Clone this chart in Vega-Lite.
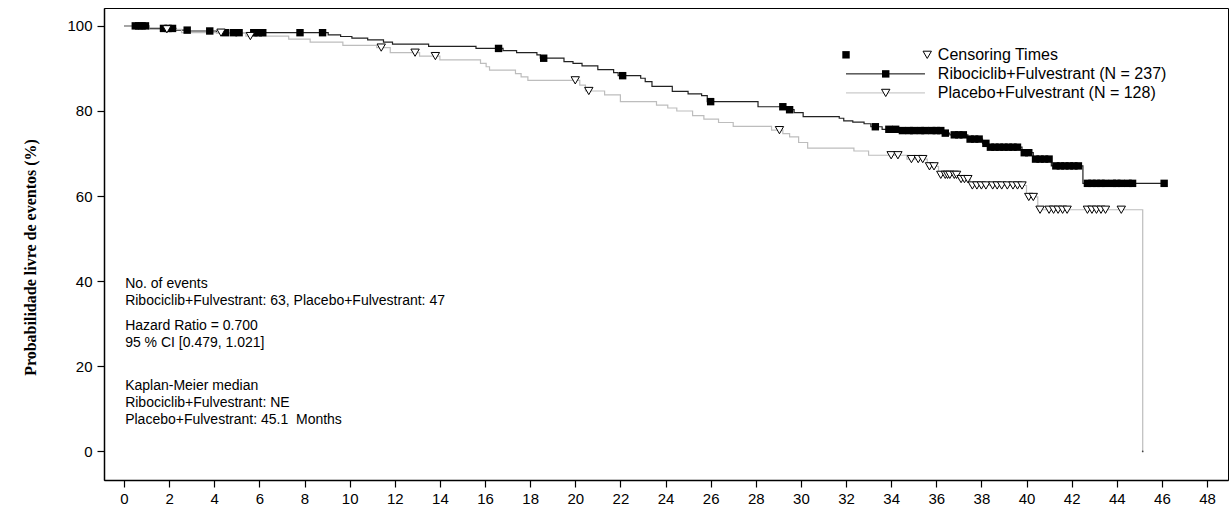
{
  "$schema": "https://vega.github.io/schema/vega-lite/v6.json",
  "autosize": "none",
  "width": 1124,
  "height": 472,
  "padding": {"left": 104, "top": 8, "right": 1, "bottom": 27},
  "background": "white",
  "config": {
    "view": {"stroke": "#000", "strokeWidth": 1},
    "font": "Liberation Sans",
    "axis": {"grid": false, "domainColor": "#000", "domainWidth": 1.5, "tickColor": "#000", "tickWidth": 1.2, "tickSize": 7, "labelColor": "#000", "labelFont": "Liberation Sans", "labelFontSize": 15}
  },
  "datasets": {
    "one": [{"k": 1}],
    "curve": [
      {"arm": "R", "month": 0, "surv": 100}, {"arm": "R", "month": 1.1, "surv": 99.4}, {"arm": "R", "month": 2.3, "surv": 99.0}, {"arm": "R", "month": 2.9, "surv": 98.8}, {"arm": "R", "month": 4.1, "surv": 98.4}, {"arm": "R", "month": 9.05, "surv": 97.9}, {"arm": "R", "month": 9.6, "surv": 97.5}, {"arm": "R", "month": 10.1, "surv": 97.1}, {"arm": "R", "month": 10.8, "surv": 96.7}, {"arm": "R", "month": 11.5, "surv": 96.2}, {"arm": "R", "month": 11.9, "surv": 95.7}, {"arm": "R", "month": 13.5, "surv": 95.2}, {"arm": "R", "month": 15.6, "surv": 94.7}, {"arm": "R", "month": 16.8, "surv": 94.2}, {"arm": "R", "month": 17.4, "surv": 93.7}, {"arm": "R", "month": 18.3, "surv": 93.2}, {"arm": "R", "month": 18.45, "surv": 92.4}, {"arm": "R", "month": 19.5, "surv": 91.6}, {"arm": "R", "month": 19.9, "surv": 91.2}, {"arm": "R", "month": 20.3, "surv": 90.6}, {"arm": "R", "month": 21.0, "surv": 89.7}, {"arm": "R", "month": 21.7, "surv": 89.0}, {"arm": "R", "month": 21.9, "surv": 88.3}, {"arm": "R", "month": 22.9, "surv": 87.7}, {"arm": "R", "month": 23.1, "surv": 86.9}, {"arm": "R", "month": 23.4, "surv": 85.8}, {"arm": "R", "month": 24.3, "surv": 84.6}, {"arm": "R", "month": 25.0, "surv": 84.0}, {"arm": "R", "month": 25.6, "surv": 83.6}, {"arm": "R", "month": 25.85, "surv": 82.2}, {"arm": "R", "month": 28.1, "surv": 81.0}, {"arm": "R", "month": 29.45, "surv": 80.3}, {"arm": "R", "month": 29.7, "surv": 79.6}, {"arm": "R", "month": 30.1, "surv": 78.7}, {"arm": "R", "month": 31.7, "surv": 78.3}, {"arm": "R", "month": 31.9, "surv": 77.7}, {"arm": "R", "month": 32.3, "surv": 77.4}, {"arm": "R", "month": 32.8, "surv": 77.0}, {"arm": "R", "month": 33.1, "surv": 76.3}, {"arm": "R", "month": 33.6, "surv": 75.7}, {"arm": "R", "month": 34.4, "surv": 75.4}, {"arm": "R", "month": 36.3, "surv": 74.8}, {"arm": "R", "month": 36.6, "surv": 74.4}, {"arm": "R", "month": 37.4, "surv": 73.4}, {"arm": "R", "month": 38.05, "surv": 72.4}, {"arm": "R", "month": 38.3, "surv": 71.5}, {"arm": "R", "month": 39.8, "surv": 70.2}, {"arm": "R", "month": 40.3, "surv": 68.7}, {"arm": "R", "month": 41.1, "surv": 67.1}, {"arm": "R", "month": 42.5, "surv": 63.0}, {"arm": "R", "month": 46.1, "surv": 63.0},
      {"arm": "P", "month": 0, "surv": 100}, {"arm": "P", "month": 1.1, "surv": 99.2}, {"arm": "P", "month": 2.55, "surv": 98.4}, {"arm": "P", "month": 5.4, "surv": 97.6}, {"arm": "P", "month": 7.3, "surv": 96.9}, {"arm": "P", "month": 8.25, "surv": 96.2}, {"arm": "P", "month": 9.7, "surv": 95.4}, {"arm": "P", "month": 11.2, "surv": 94.9}, {"arm": "P", "month": 11.8, "surv": 93.7}, {"arm": "P", "month": 13.1, "surv": 92.9}, {"arm": "P", "month": 14.0, "surv": 92.0}, {"arm": "P", "month": 15.8, "surv": 91.2}, {"arm": "P", "month": 16.05, "surv": 90.4}, {"arm": "P", "month": 16.2, "surv": 89.6}, {"arm": "P", "month": 17.35, "surv": 88.8}, {"arm": "P", "month": 17.6, "surv": 88.0}, {"arm": "P", "month": 17.9, "surv": 87.2}, {"arm": "P", "month": 20.2, "surv": 86.1}, {"arm": "P", "month": 20.45, "surv": 84.7}, {"arm": "P", "month": 21.3, "surv": 83.8}, {"arm": "P", "month": 22.0, "surv": 82.2}, {"arm": "P", "month": 23.6, "surv": 81.4}, {"arm": "P", "month": 24.1, "surv": 80.7}, {"arm": "P", "month": 24.5, "surv": 80.0}, {"arm": "P", "month": 25.2, "surv": 78.9}, {"arm": "P", "month": 25.7, "surv": 78.1}, {"arm": "P", "month": 26.35, "surv": 77.3}, {"arm": "P", "month": 27.0, "surv": 76.4}, {"arm": "P", "month": 28.7, "surv": 75.5}, {"arm": "P", "month": 29.2, "surv": 74.7}, {"arm": "P", "month": 29.5, "surv": 73.9}, {"arm": "P", "month": 29.9, "surv": 72.6}, {"arm": "P", "month": 30.3, "surv": 71.3}, {"arm": "P", "month": 32.35, "surv": 70.6}, {"arm": "P", "month": 33.0, "surv": 69.6}, {"arm": "P", "month": 34.7, "surv": 68.7}, {"arm": "P", "month": 35.6, "surv": 67.0}, {"arm": "P", "month": 36.1, "surv": 65.0}, {"arm": "P", "month": 37.0, "surv": 64.0}, {"arm": "P", "month": 37.5, "surv": 62.5}, {"arm": "P", "month": 40.0, "surv": 59.8}, {"arm": "P", "month": 40.5, "surv": 56.8}, {"arm": "P", "month": 45.15, "surv": 0}
    ],
    "censorR": [
      {"month": 0.5, "surv": 100}, {"month": 0.65, "surv": 100}, {"month": 0.8, "surv": 100}, {"month": 0.95, "surv": 100}, {"month": 1.75, "surv": 99.4}, {"month": 1.95, "surv": 99.4}, {"month": 2.15, "surv": 99.4}, {"month": 2.8, "surv": 99.0}, {"month": 3.8, "surv": 98.8}, {"month": 4.5, "surv": 98.4}, {"month": 4.85, "surv": 98.4}, {"month": 5.1, "surv": 98.4}, {"month": 5.75, "surv": 98.4}, {"month": 5.95, "surv": 98.4}, {"month": 6.15, "surv": 98.4}, {"month": 7.8, "surv": 98.4}, {"month": 8.8, "surv": 98.4}, {"month": 16.6, "surv": 94.7}, {"month": 18.6, "surv": 92.4}, {"month": 22.1, "surv": 88.3}, {"month": 26.0, "surv": 82.2}, {"month": 29.2, "surv": 81.0}, {"month": 29.5, "surv": 80.3}, {"month": 33.3, "surv": 76.3}, {"month": 33.9, "surv": 75.7}, {"month": 34.2, "surv": 75.7}, {"month": 34.5, "surv": 75.4}, {"month": 34.8, "surv": 75.4}, {"month": 35.0, "surv": 75.4}, {"month": 35.3, "surv": 75.4}, {"month": 35.5, "surv": 75.4}, {"month": 35.8, "surv": 75.4}, {"month": 36.0, "surv": 75.4}, {"month": 36.2, "surv": 75.4}, {"month": 36.4, "surv": 74.8}, {"month": 36.8, "surv": 74.4}, {"month": 37.0, "surv": 74.4}, {"month": 37.2, "surv": 74.4}, {"month": 37.5, "surv": 73.4}, {"month": 37.7, "surv": 73.4}, {"month": 37.9, "surv": 73.4}, {"month": 38.2, "surv": 72.4}, {"month": 38.4, "surv": 71.5}, {"month": 38.6, "surv": 71.5}, {"month": 38.8, "surv": 71.5}, {"month": 39.0, "surv": 71.5}, {"month": 39.2, "surv": 71.5}, {"month": 39.4, "surv": 71.5}, {"month": 39.6, "surv": 71.5}, {"month": 39.9, "surv": 70.2}, {"month": 40.1, "surv": 70.2}, {"month": 40.4, "surv": 68.7}, {"month": 40.6, "surv": 68.7}, {"month": 40.8, "surv": 68.7}, {"month": 41.0, "surv": 68.7}, {"month": 41.3, "surv": 67.1}, {"month": 41.5, "surv": 67.1}, {"month": 41.7, "surv": 67.1}, {"month": 41.9, "surv": 67.1}, {"month": 42.1, "surv": 67.1}, {"month": 42.3, "surv": 67.1}, {"month": 42.7, "surv": 63.0}, {"month": 42.9, "surv": 63.0}, {"month": 43.1, "surv": 63.0}, {"month": 43.3, "surv": 63.0}, {"month": 43.5, "surv": 63.0}, {"month": 43.8, "surv": 63.0}, {"month": 44.0, "surv": 63.0}, {"month": 44.2, "surv": 63.0}, {"month": 44.5, "surv": 63.0}, {"month": 44.7, "surv": 63.0}, {"month": 46.1, "surv": 63.0}
    ],
    "censorP": [
      {"month": 1.9, "surv": 99.2}, {"month": 4.3, "surv": 98.4}, {"month": 5.6, "surv": 97.6}, {"month": 11.4, "surv": 94.9}, {"month": 12.9, "surv": 93.7}, {"month": 13.8, "surv": 92.9}, {"month": 20.0, "surv": 87.2}, {"month": 20.6, "surv": 84.7}, {"month": 29.05, "surv": 75.5}, {"month": 34.0, "surv": 69.6}, {"month": 34.3, "surv": 69.6}, {"month": 34.9, "surv": 68.7}, {"month": 35.2, "surv": 68.7}, {"month": 35.4, "surv": 68.7}, {"month": 35.7, "surv": 67.0}, {"month": 35.9, "surv": 67.0}, {"month": 36.2, "surv": 65.0}, {"month": 36.4, "surv": 65.0}, {"month": 36.5, "surv": 65.0}, {"month": 36.6, "surv": 65.0}, {"month": 36.8, "surv": 65.0}, {"month": 36.9, "surv": 65.0}, {"month": 37.1, "surv": 64.0}, {"month": 37.25, "surv": 64.0}, {"month": 37.4, "surv": 64.0}, {"month": 37.6, "surv": 62.5}, {"month": 37.8, "surv": 62.5}, {"month": 38.0, "surv": 62.5}, {"month": 38.2, "surv": 62.5}, {"month": 38.5, "surv": 62.5}, {"month": 38.7, "surv": 62.5}, {"month": 38.9, "surv": 62.5}, {"month": 39.15, "surv": 62.5}, {"month": 39.4, "surv": 62.5}, {"month": 39.6, "surv": 62.5}, {"month": 39.8, "surv": 62.5}, {"month": 40.1, "surv": 59.8}, {"month": 40.3, "surv": 59.8}, {"month": 40.6, "surv": 56.8}, {"month": 41.0, "surv": 56.8}, {"month": 41.2, "surv": 56.8}, {"month": 41.4, "surv": 56.8}, {"month": 41.6, "surv": 56.8}, {"month": 41.8, "surv": 56.8}, {"month": 42.7, "surv": 56.8}, {"month": 42.9, "surv": 56.8}, {"month": 43.1, "surv": 56.8}, {"month": 43.3, "surv": 56.8}, {"month": 43.5, "surv": 56.8}, {"month": 44.2, "surv": 56.8}
    ]
  },
  "layer": [
    {
      "data": {"name": "curve"},
      "mark": {"type": "line", "interpolate": "step-after", "strokeWidth": 1.2},
      "encoding": {
        "x": {"field": "month", "type": "quantitative", "scale": {"domain": [-0.887, 48.93], "nice": false, "zero": false}, "axis": {"values": [0,2,4,6,8,10,12,14,16,18,20,22,24,26,28,30,32,34,36,38,40,42,44,46,48], "title": null, "labelPadding": 4}},
        "y": {"field": "surv", "type": "quantitative", "scale": {"domain": [-6.7, 104.2], "nice": false, "zero": false}, "axis": {"values": [0,20,40,60,80,100], "labelPadding": 5, "title": "Probabilidade livre de eventos (%)", "titleFont": "Liberation Serif", "titleFontWeight": "bold", "titleFontSize": 16, "titleColor": "#000", "titleX": -74, "titleY": 249, "titleBaseline": "middle", "titleAlign": "center", "titleAngle": -90}},
        "detail": {"field": "arm"},
        "color": {"field": "arm", "type": "nominal", "scale": {"domain": ["R", "P"], "range": ["#222222", "#bdbdbd"]}, "legend": null},
        "order": {"field": "month", "type": "quantitative"}
      }
    },
    {
      "data": {"name": "censorR"},
      "mark": {"type": "point", "shape": "square", "filled": true, "color": "#000", "size": 55, "opacity": 1},
      "encoding": {"x": {"field": "month", "type": "quantitative"}, "y": {"field": "surv", "type": "quantitative"}}
    },
    {
      "data": {"name": "censorP"},
      "mark": {"type": "point", "shape": "triangle-down", "filled": true, "fill": "white", "stroke": "#000", "strokeWidth": 1, "size": 70, "opacity": 1},
      "encoding": {"x": {"field": "month", "type": "quantitative"}, "y": {"field": "surv", "type": "quantitative"}}
    },
    {
      "data": {"name": "one"},
      "mark": {"type": "point", "shape": "circle", "filled": true, "color": "#000", "size": 3},
      "encoding": {"x": {"datum": 45.15}, "y": {"datum": 0}}
    },
    {
      "data": {"name": "one"},
      "mark": {"type": "point", "shape": "square", "filled": true, "color": "#000", "size": 55, "opacity": 1},
      "encoding": {"x": {"datum": 32.0}, "y": {"datum": 93.2}}
    },
    {
      "data": {"name": "one"},
      "mark": {"type": "point", "shape": "triangle-down", "filled": true, "fill": "white", "stroke": "#000", "strokeWidth": 1, "size": 70, "opacity": 1},
      "encoding": {"x": {"datum": 35.6}, "y": {"datum": 93.2}}
    },
    {
      "data": {"name": "one"},
      "mark": {"type": "rule", "color": "#000", "strokeWidth": 1},
      "encoding": {"x": {"datum": 32.0}, "x2": {"datum": 35.5}, "y": {"datum": 88.72}}
    },
    {
      "data": {"name": "one"},
      "mark": {"type": "point", "shape": "square", "filled": true, "color": "#000", "size": 55, "opacity": 1},
      "encoding": {"x": {"datum": 33.76}, "y": {"datum": 88.72}}
    },
    {
      "data": {"name": "one"},
      "mark": {"type": "rule", "color": "#bdbdbd", "strokeWidth": 1},
      "encoding": {"x": {"datum": 32.0}, "x2": {"datum": 35.5}, "y": {"datum": 84.25}}
    },
    {
      "data": {"name": "one"},
      "mark": {"type": "point", "shape": "triangle-down", "filled": true, "fill": "white", "stroke": "#000", "strokeWidth": 1, "size": 70, "opacity": 1},
      "encoding": {"x": {"datum": 33.76}, "y": {"datum": 84.25}}
    },
    {
      "data": {"name": "one"},
      "mark": {"type": "text", "align": "left", "baseline": "middle", "font": "Liberation Sans", "fontSize": 16, "color": "#000", "text": "Censoring Times"},
      "encoding": {"x": {"datum": 36.07}, "y": {"datum": 93.2}}
    },
    {
      "data": {"name": "one"},
      "mark": {"type": "text", "align": "left", "baseline": "middle", "font": "Liberation Sans", "fontSize": 16, "color": "#000", "text": "Ribociclib+Fulvestrant (N = 237)"},
      "encoding": {"x": {"datum": 36.07}, "y": {"datum": 88.72}}
    },
    {
      "data": {"name": "one"},
      "mark": {"type": "text", "align": "left", "baseline": "middle", "font": "Liberation Sans", "fontSize": 16, "color": "#000", "text": "Placebo+Fulvestrant (N = 128)"},
      "encoding": {"x": {"datum": 36.07}, "y": {"datum": 84.25}}
    },
    {
      "data": {"name": "one"},
      "mark": {"type": "text", "align": "left", "baseline": "alphabetic", "font": "Liberation Sans", "fontSize": 14, "color": "#000", "lineHeight": 17, "text": ["No. of events", "Ribociclib+Fulvestrant: 63, Placebo+Fulvestrant: 47"]},
      "encoding": {"x": {"datum": 0.05}, "y": {"datum": 38.4}}
    },
    {
      "data": {"name": "one"},
      "mark": {"type": "text", "align": "left", "baseline": "alphabetic", "font": "Liberation Sans", "fontSize": 14, "color": "#000", "lineHeight": 17, "text": ["Hazard Ratio = 0.700", "95 % CI [0.479, 1.021]"]},
      "encoding": {"x": {"datum": 0.05}, "y": {"datum": 28.6}}
    },
    {
      "data": {"name": "one"},
      "mark": {"type": "text", "align": "left", "baseline": "alphabetic", "font": "Liberation Sans", "fontSize": 14, "color": "#000", "lineHeight": 17, "text": ["Kaplan-Meier median", "Ribociclib+Fulvestrant: NE", "Placebo+Fulvestrant: 45.1\u00a0 Months"]},
      "encoding": {"x": {"datum": 0.05}, "y": {"datum": 14.45}}
    }
  ]
}
